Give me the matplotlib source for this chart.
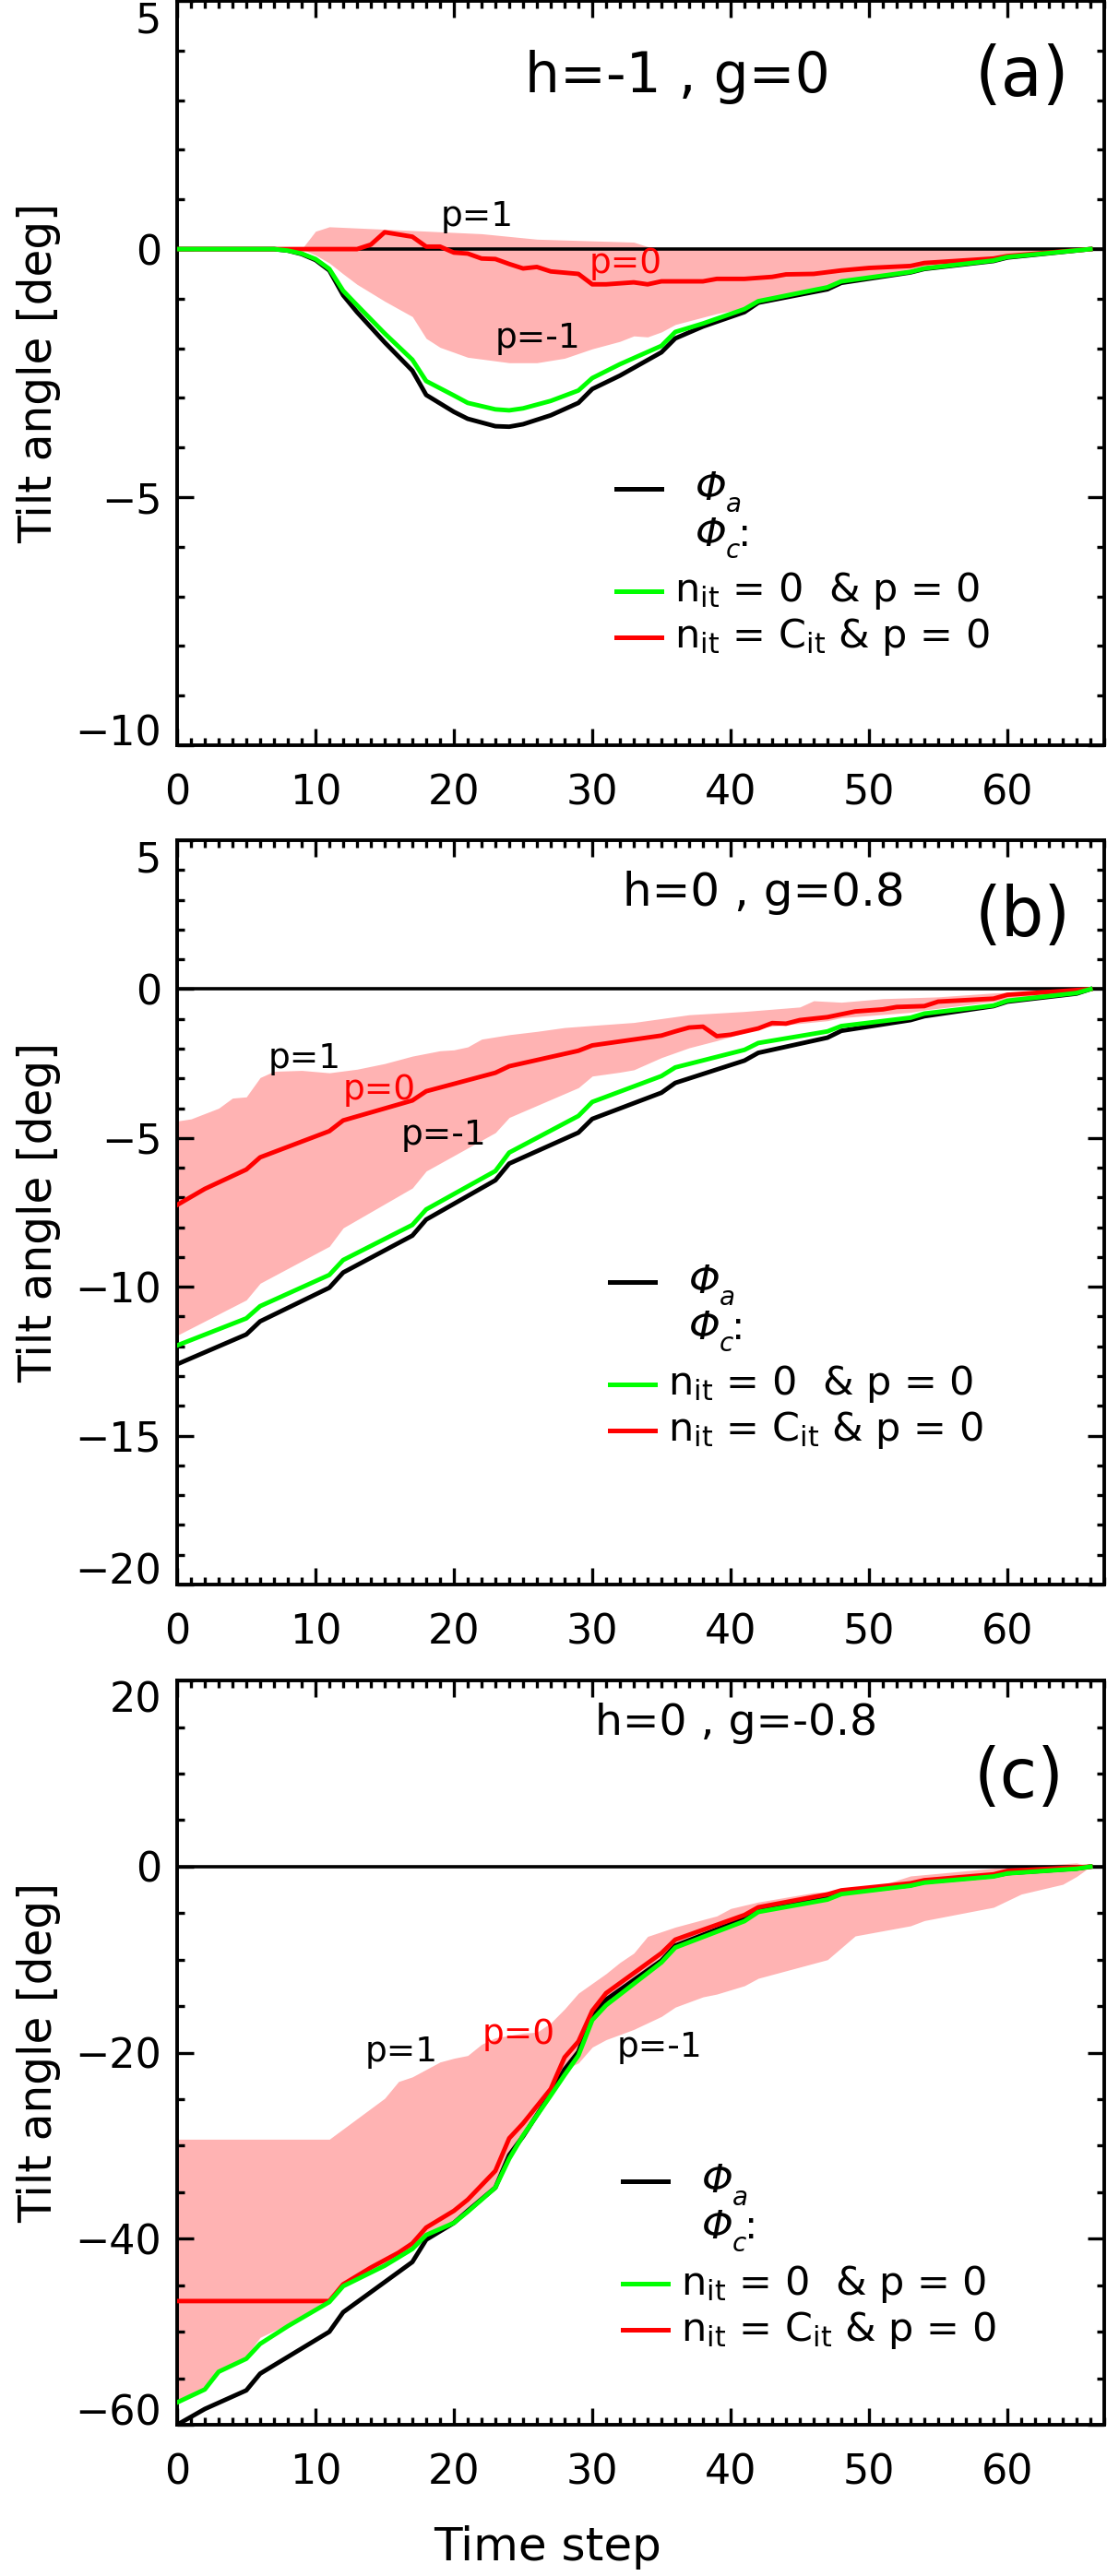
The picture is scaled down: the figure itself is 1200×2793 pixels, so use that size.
import matplotlib
matplotlib.use("Agg")
import numpy as np
from matplotlib import pyplot as plt
from matplotlib.ticker import MultipleLocator

plt.rcParams['font.family'] = ['DejaVu Sans']
plt.rcParams['mathtext.fontset'] = 'dejavusans'

# ---- panel (a): h=-1 , g=0 ----
a_black_t = [0, 7, 8, 9, 10, 11, 12, 13, 15, 17, 18, 20, 21, 23, 24, 25, 27, 29, 30, 32, 35, 36, 38, 41, 42, 47, 48, 53, 54, 59, 60, 66]
a_black = [0, 0, -0.03, -0.10, -0.22, -0.43, -0.93, -1.27, -1.88, -2.45, -2.94, -3.28, -3.42, -3.57, -3.58, -3.53, -3.35, -3.10, -2.82, -2.55, -2.08, -1.80, -1.56, -1.27, -1.08, -0.81, -0.68, -0.47, -0.40, -0.24, -0.17, 0]
a_green_t = a_black_t
a_green = [0, 0, -0.03, -0.09, -0.20, -0.40, -0.84, -1.13, -1.70, -2.23, -2.66, -2.95, -3.10, -3.23, -3.25, -3.21, -3.06, -2.85, -2.60, -2.32, -1.95, -1.67, -1.50, -1.21, -1.05, -0.77, -0.65, -0.46, -0.39, -0.23, -0.16, 0]
a_red_t = [0, 13, 14, 15, 17, 18, 19, 20, 21, 22, 23, 24, 25, 26, 27, 29, 30, 31, 33, 34, 35, 38, 39, 41, 43, 44, 46, 48, 50, 53, 54, 59, 60, 66]
a_red = [0, 0, 0.09, 0.34, 0.25, 0.05, 0.05, -0.07, -0.09, -0.19, -0.20, -0.30, -0.39, -0.36, -0.45, -0.50, -0.71, -0.71, -0.67, -0.71, -0.65, -0.65, -0.60, -0.60, -0.56, -0.51, -0.50, -0.43, -0.38, -0.34, -0.28, -0.19, -0.14, 0]
a_up_t = [0, 9, 10, 11, 15, 22, 26, 33, 34, 35, 50, 52, 56, 58, 66]
a_up = [0, 0, 0.36, 0.45, 0.40, 0.31, 0.20, 0.14, 0.05, 0, 0, 0.03, 0.03, 0, 0]
a_lo_t = [0, 9, 10, 11, 12, 13, 15, 17, 18, 19, 21, 24, 26, 28, 30, 32, 33, 34, 35, 36, 39, 41, 42, 47, 48, 53, 54, 59, 60, 66]
a_lo = [0, 0, -0.12, -0.28, -0.50, -0.71, -1.05, -1.36, -1.80, -1.98, -2.18, -2.29, -2.29, -2.20, -2.01, -1.86, -1.75, -1.77, -1.67, -1.52, -1.30, -1.19, -1.03, -0.76, -0.64, -0.45, -0.38, -0.22, -0.15, 0]

# ---- panel (b): h=0 , g=0.8 ----
b_black_t = [0, 5, 6, 11, 12, 17, 18, 23, 24, 29, 30, 35, 36, 41, 42, 47, 48, 53, 54, 59, 60, 65, 66]
b_black = [-12.6, -11.6, -11.16, -10.03, -9.52, -8.28, -7.74, -6.42, -5.86, -4.82, -4.36, -3.48, -3.15, -2.40, -2.14, -1.63, -1.40, -1.04, -0.91, -0.57, -0.42, -0.15, 0]
b_green_t = b_black_t
b_green = [-11.97, -11.06, -10.65, -9.6, -9.1, -7.92, -7.40, -6.11, -5.49, -4.26, -3.79, -2.92, -2.63, -2.04, -1.81, -1.42, -1.24, -0.96, -0.82, -0.55, -0.39, -0.13, 0]
b_red_t = [0, 2, 5, 6, 11, 12, 17, 18, 23, 24, 29, 30, 35, 36, 37, 38, 39, 40, 42, 43, 44, 45, 47, 49, 51, 52, 54, 55, 59, 60, 66]
b_red = [-7.25, -6.71, -6.06, -5.65, -4.77, -4.41, -3.74, -3.43, -2.81, -2.59, -2.07, -1.89, -1.56, -1.42, -1.29, -1.26, -1.58, -1.53, -1.32, -1.14, -1.16, -1.04, -0.94, -0.75, -0.68, -0.60, -0.57, -0.42, -0.32, -0.19, 0]
b_up_t = [0, 1, 3, 4, 5, 6, 7, 9, 11, 13, 15, 17, 19, 20, 21, 22, 24, 26, 28, 30, 33, 37, 41, 45, 46, 48, 51, 55, 59, 66]
b_up = [-4.43, -4.36, -4.0, -3.66, -3.62, -2.97, -2.76, -2.73, -2.81, -2.69, -2.5, -2.25, -2.07, -2.04, -1.94, -1.68, -1.53, -1.42, -1.29, -1.22, -1.12, -0.86, -0.75, -0.60, -0.39, -0.44, -0.32, -0.26, -0.13, 0]
b_lo_t = [0, 5, 6, 11, 12, 17, 18, 23, 24, 29, 30, 32, 33, 35, 37, 39, 41, 42, 47, 48, 53, 54, 59, 60, 66]
b_lo = [-11.63, -10.44, -9.88, -8.64, -8.02, -6.68, -6.11, -4.82, -4.31, -3.31, -2.92, -2.79, -2.71, -2.30, -1.97, -1.73, -1.47, -1.29, -1.06, -0.96, -0.78, -0.70, -0.42, -0.32, 0]

# ---- panel (c): h=0 , g=-0.8 ----
c_black_t = [0, 2, 5, 6, 11, 12, 17, 18, 20, 21, 23, 24, 25, 27, 28, 29, 30, 31, 35, 36, 41, 42, 47, 48, 53, 54, 59, 60, 65, 66]
c_black = [-60.0, -58.3, -56.3, -54.5, -50.0, -47.9, -42.5, -40.1, -38.3, -37.0, -34.5, -31.0, -29.0, -24.4, -21.8, -19.9, -16.0, -14.3, -10.1, -8.5, -5.6, -4.7, -3.4, -2.85, -2.0, -1.65, -1.0, -0.7, -0.2, 0]
c_green_t = [0, 2, 3, 5, 6, 8, 11, 12, 15, 17, 18, 20, 21, 23, 24, 25, 27, 28, 29, 30, 31, 35, 36, 41, 42, 47, 48, 53, 54, 59, 60, 65, 66]
c_green = [-57.6, -56.2, -54.3, -52.9, -51.3, -49.4, -46.8, -45.1, -42.9, -41.1, -39.6, -38.3, -37.1, -34.5, -31.4, -28.9, -24.6, -22.4, -20.3, -16.5, -14.9, -10.3, -8.7, -5.86, -4.87, -3.54, -2.95, -2.05, -1.72, -1.06, -0.73, -0.23, 0]
c_red_t = [0, 11, 12, 14, 16, 17, 18, 20, 21, 23, 24, 25, 27, 28, 29, 30, 31, 35, 36, 41, 42, 47, 48, 53, 54, 59, 60, 66]
c_red = [-46.7, -46.7, -44.9, -43.1, -41.5, -40.5, -38.8, -37.0, -35.8, -32.7, -29.2, -27.6, -23.9, -20.5, -18.8, -15.5, -13.6, -9.3, -7.85, -5.2, -4.37, -2.98, -2.55, -1.79, -1.46, -0.83, -0.46, 0]
c_up_t = [0, 11, 13, 15, 16, 17, 19, 20, 21, 22, 23, 25, 26, 27, 28, 29, 31, 32, 33, 34, 36, 39, 40, 42, 46, 47, 51, 53, 55, 59, 65, 66]
c_up = [-29.3, -29.3, -27.1, -24.9, -23.1, -22.6, -21.0, -20.6, -20.3, -19.1, -18.4, -17.9, -17.8, -16.8, -15.3, -13.6, -11.5, -10.3, -9.3, -7.5, -6.5, -5.3, -4.5, -3.8, -2.8, -2.7, -1.95, -1.0, -0.73, -0.17, 0.4, 0]
c_lo_t = [0, 2, 3, 5, 6, 8, 11, 12, 15, 17, 18, 20, 21, 23, 24, 25, 27, 28, 29, 30, 31, 33, 35, 36, 38, 39, 41, 42, 47, 49, 53, 54, 59, 61, 64, 65, 66]
c_lo = [-57.6, -56.2, -54.3, -52.6, -50.6, -49.2, -46.8, -45.0, -42.9, -41.1, -39.6, -38.3, -37.1, -34.5, -31.4, -28.9, -24.6, -21.8, -21.1, -19.4, -18.6, -17.5, -16.1, -15.1, -14.0, -13.7, -12.8, -12.0, -10.0, -7.45, -6.36, -5.8, -4.37, -2.95, -1.9, -1.06, 0]

titles = ["h=-1 , g=0", "h=0 , g=0.8", "h=0 , g=-0.8"]
letters = ["(a)", "(b)", "(c)"]
ylims = [(-10, 5), (-20, 5), (-60, 20)]
yticks = [[-10, -5, 0, 5], [-20, -15, -10, -5, 0, 5], [-60, -40, -20, 0, 20]]
yminor = [1, 1, 5]

pink = '#ffb3b3'
green = '#00ff00'
red = '#ff0000'


def band(t_up, up, t_lo, lo):
    # put both edges of the shaded range on one time grid
    ts = sorted(set(t_up) | set(t_lo))
    return ts, np.interp(ts, t_up, up), np.interp(ts, t_lo, lo)


fig = plt.figure(figsize=(12, 27.93), dpi=100)
bottoms = [0.7107, 0.3849, 0.0587]
axes = [fig.add_axes([0.16, b, 0.8375, 0.2889]) for b in bottoms]

panels = [
    (a_black_t, a_black, a_green_t, a_green, a_red_t, a_red, a_up_t, a_up, a_lo_t, a_lo),
    (b_black_t, b_black, b_green_t, b_green, b_red_t, b_red, b_up_t, b_up, b_lo_t, b_lo),
    (c_black_t, c_black, c_green_t, c_green, c_red_t, c_red, c_up_t, c_up, c_lo_t, c_lo),
]

# p labels (data coords)
p_labels = [
    [(21.7, 0.65, "p=1", 'black'), (32.4, -0.30, "p=0", red), (26.1, -1.80, "p=-1", 'black')],
    [(9.2, -2.35, "p=1", 'black'), (14.6, -3.4, "p=0", red), (19.3, -4.9, "p=-1", 'black')],
    [(16.2, -19.9, "p=1", 'black'), (24.7, -18.1, "p=0", red), (34.9, -19.4, "p=-1", 'black')],
]
title_pos = [(0.54, 0.898, 43), (0.633, 0.93, 36), (0.603, 0.942, 34)]
letter_pos = [(0.911, 0.898), (0.912, 0.897), (0.908, 0.868)]
# legend anchor: line start x, top row y (axes fraction)
legend_pos = [(0.474, 0.345), (0.467, 0.407), (0.481, 0.327)]

for i, ax in enumerate(axes):
    bt, bv, gt, gv, rt, rv, ut, uv, lt, lv = panels[i]
    ts, up, lo = band(ut, uv, lt, lv)
    ax.fill_between(ts, lo, up, color=pink, lw=0, zorder=1)
    ax.axhline(0, color='black', lw=2.6, zorder=2)
    ax.plot(bt, bv, color='black', lw=3.5, zorder=3)
    ax.plot(rt, rv, color=red, lw=3.5, zorder=4)
    ax.plot(gt, gv, color=green, lw=3.5, zorder=5)

    ax.set_xlim(0, 67)
    ax.set_ylim(*ylims[i])
    ax.xaxis.set_major_locator(MultipleLocator(10))
    ax.xaxis.set_minor_locator(MultipleLocator(1))
    ax.set_yticks(yticks[i])
    ax.yaxis.set_minor_locator(MultipleLocator(yminor[i]))
    ax.tick_params(which='both', direction='in', top=True, right=True, width=2.4)
    ax.tick_params(which='major', length=13)
    ax.tick_params(which='minor', length=6)
    ax.tick_params(axis='x', labelsize=32, pad=22)
    ax.tick_params(axis='y', labelsize=32, pad=12)
    # keep end labels inside the axis range, like the original
    yt = ax.yaxis.get_major_ticks()
    yt[0].label1.set_verticalalignment('baseline')
    yt[-1].label1.set_verticalalignment('top')
    for s in ax.spines.values():
        s.set_linewidth(2.8)
    ax.set_ylabel("Tilt angle [deg]", fontsize=35)
    ax.yaxis.set_label_coords(-0.125, 0.5)

    for (x, y, s, c) in p_labels[i]:
        ax.text(x, y, s, color=c, fontsize=27, ha='center', va='center', zorder=6)

    tx, ty, tsz = title_pos[i]
    ax.text(tx, ty, titles[i], transform=ax.transAxes, fontsize=tsz, ha='center', va='center')
    lx, ly = letter_pos[i]
    ax.text(lx, ly, letters[i], transform=ax.transAxes, fontsize=53, ha='center', va='center')

    # hand made legend
    x0, y0 = legend_pos[i]
    ax.plot([x0, x0 + 0.048], [y0, y0], transform=ax.transAxes, color='black', lw=3.6, clip_on=False)
    ax.text(x0 + 0.085, y0, 'Φ', style='italic', transform=ax.transAxes, fontsize=31, va='center')
    ax.text(x0 + 0.118, y0 - 0.022, 'a', style='italic', transform=ax.transAxes, fontsize=20, va='center')
    ax.text(x0 + 0.085, y0 - 0.062, 'Φ', style='italic', transform=ax.transAxes, fontsize=31, va='center')
    ax.text(x0 + 0.118, y0 - 0.084, 'c', style='italic', transform=ax.transAxes, fontsize=20, va='center')
    ax.text(x0 + 0.131, y0 - 0.062, ':', transform=ax.transAxes, fontsize=31, va='center')
    ax.plot([x0, x0 + 0.048], [y0 - 0.1375, y0 - 0.1375], transform=ax.transAxes, color=green, lw=3.6, clip_on=False)
    ax.text(x0 + 0.062, y0 - 0.1375, r'n$_{\rm it}$ = 0  & p = 0', transform=ax.transAxes, fontsize=31, va='center')
    ax.plot([x0, x0 + 0.048], [y0 - 0.1995, y0 - 0.1995], transform=ax.transAxes, color=red, lw=3.6, clip_on=False)
    ax.text(x0 + 0.062, y0 - 0.1995, r'n$_{\rm it}$ = C$_{\rm it}$ & p = 0', transform=ax.transAxes, fontsize=31, va='center')

axes[2].set_xlabel("Time step", fontsize=36, labelpad=8)
axes[2].xaxis.set_label_coords(0.40, -0.135)

fig.savefig("out.png", dpi=100)
